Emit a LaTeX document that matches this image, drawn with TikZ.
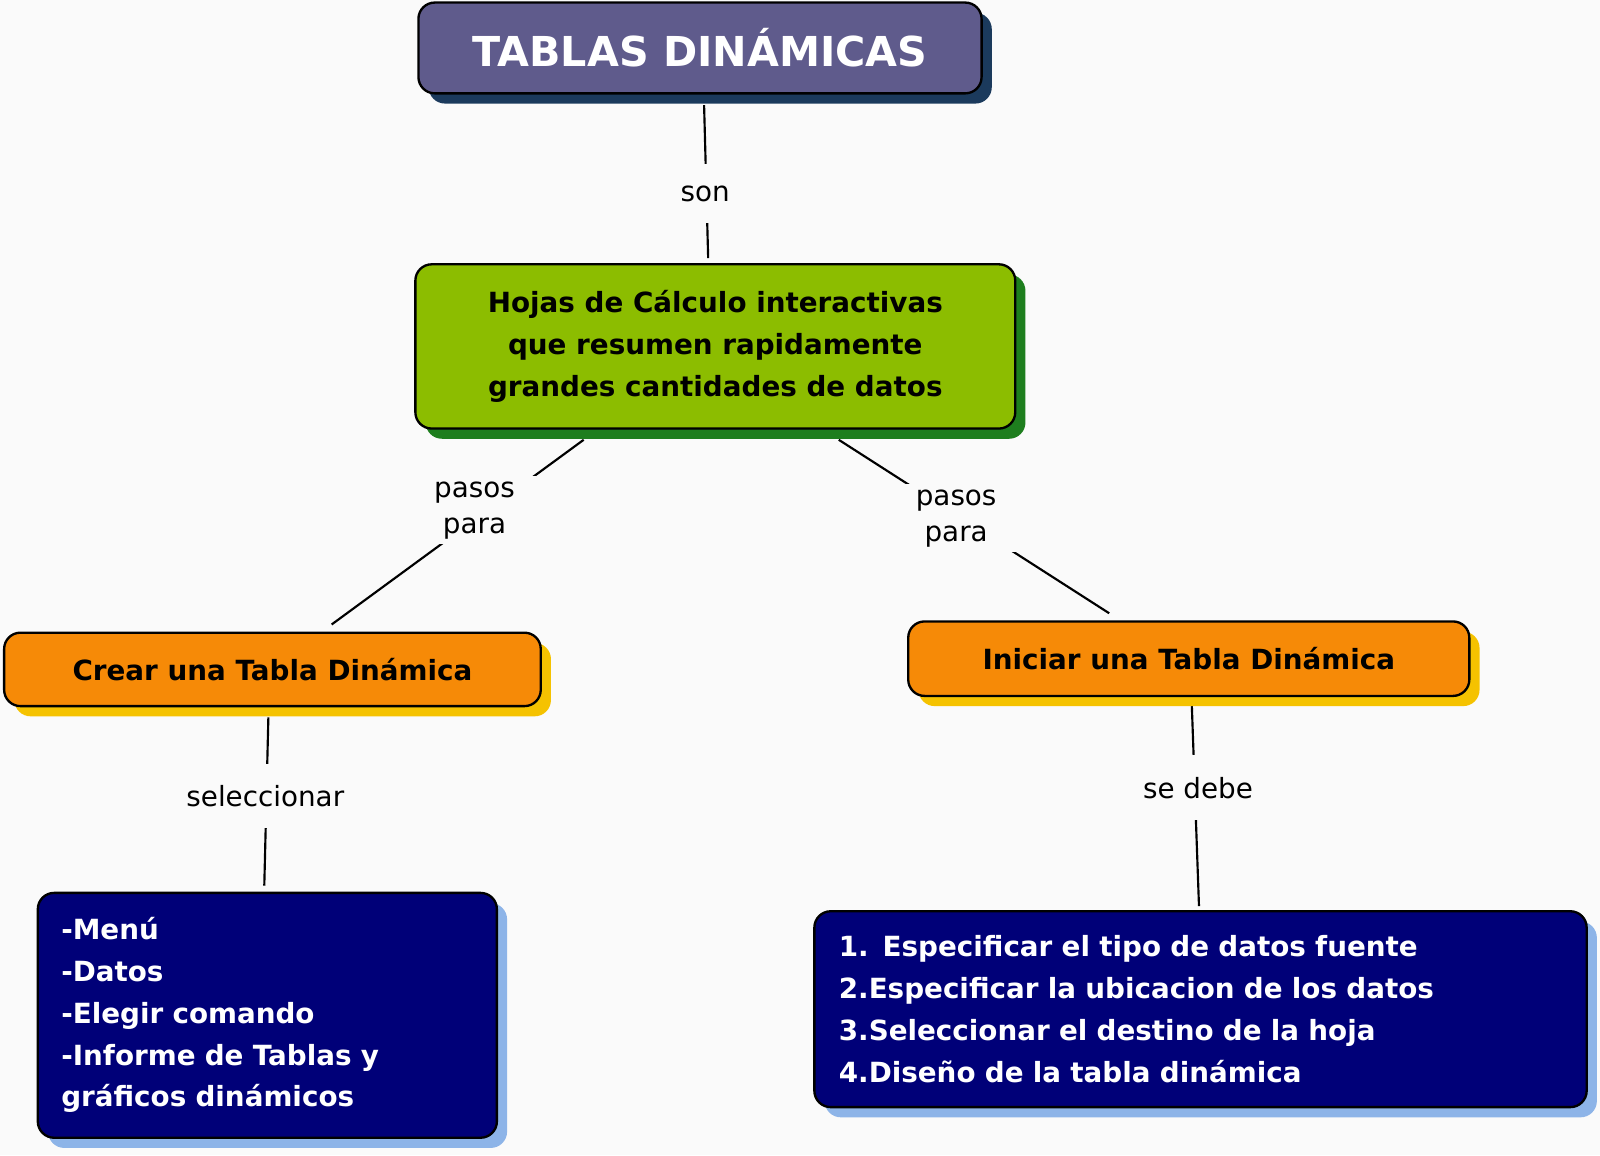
\documentclass[tikz,border=0pt]{standalone}
\usepackage{fontspec}
\setmainfont{DejaVu Sans}
\usetikzlibrary{shadows}
\definecolor{bg}{HTML}{FAFAFA}
\definecolor{titlef}{HTML}{5F5B8C}
\definecolor{titles}{HTML}{1B3A5C}
\definecolor{greenf}{HTML}{8CBD00}
\definecolor{greens}{HTML}{1E7E1E}
\definecolor{orangef}{HTML}{F68A07}
\definecolor{oranges}{HTML}{F5C200}
\definecolor{bluef}{HTML}{000078}
\definecolor{blues}{HTML}{8DB4E8}
\tikzset{
 box/.style={draw=black,line width=1.3pt,rounded corners=0.32cm,font=\bfseries\fontsize{15.5}{23.3}\selectfont,align=center},
 sh/.style={drop shadow={shadow xshift=0.2cm,shadow yshift=-0.2cm,fill=#1,opacity=1}},
 lbl/.style={fill=bg,font=\fontsize{15.5}{20}\selectfont,align=center,inner sep=3pt},
 conn/.style={line width=1.2pt}
}
\begin{document}
\begin{tikzpicture}[x=0.02cm,y=-0.02cm]
\fill[bg] (0,0) rectangle (1568,1132);
\useasboundingbox (0,0) rectangle (1568,1132);
% connectors
\coordinate (t1) at (690,103); \coordinate (t2) at (694,253);
\coordinate (l1) at (572,431); \coordinate (l2) at (325,612);
\coordinate (r1) at (822,431); \coordinate (r2) at (1087,601);
\coordinate (ld1) at (263,703); \coordinate (ld2) at (259,868);
\coordinate (rd1) at (1168,692); \coordinate (rd2) at (1175,888);
\draw[conn] (t1) -- (t2);
\draw[conn] (l1) -- (l2);
\draw[conn] (r1) -- (r2);
\draw[conn] (ld1) -- (ld2);
\draw[conn] (rd1) -- (rd2);
\node[lbl,inner ysep=12pt] (son) at (691,190) {son};
\node[lbl,inner xsep=12pt] (pl) at (465,500) {pasos\\para};
\node[lbl,inner xsep=12pt] (pr) at (937,508) {pasos\\para};
\node[lbl,inner ysep=12pt] (sel) at (260,780) {seleccionar};
\node[lbl,inner ysep=12pt] (sd) at (1174,772) {se debe};
% boxes
\node[box,sh=titles,fill=titlef,text=white,minimum width=11.04cm,minimum height=1.78cm,font=\bfseries\fontsize{23}{28}\selectfont] (title) at (686,47) {TABLAS DINÁMICAS};
\node[box,sh=greens,fill=greenf,minimum width=11.76cm,minimum height=3.22cm] (hojas) at (701,339.5) {Hojas de Cálculo interactivas\\que resumen rapidamente\\grandes cantidades de datos};
\node[box,sh=oranges,fill=orangef,minimum width=10.52cm,minimum height=1.44cm] (crear) at (267,656) {Crear una Tabla Dinámica};
\node[box,sh=oranges,fill=orangef,minimum width=11.0cm,minimum height=1.46cm] (iniciar) at (1165,645.5) {Iniciar una Tabla Dinámica};
\node[box,sh=blues,fill=bluef,text=white,align=left,text width=8.08cm,inner xsep=0.46cm,minimum height=4.8cm] (menu) at (262,995) {-Menú\\-Datos\\-Elegir comando\\-Informe de Tablas y\\gráficos dinámicos};
\node[box,sh=blues,fill=bluef,text=white,align=left,text width=14.18cm,inner xsep=0.48cm,minimum height=3.84cm] (pasos) at (1176.5,989) {1. Especificar el tipo de datos fuente\\2.Especificar la ubicacion de los datos\\3.Seleccionar el destino de la hoja\\4.Diseño de la tabla dinámica};
\end{tikzpicture}
\end{document}
